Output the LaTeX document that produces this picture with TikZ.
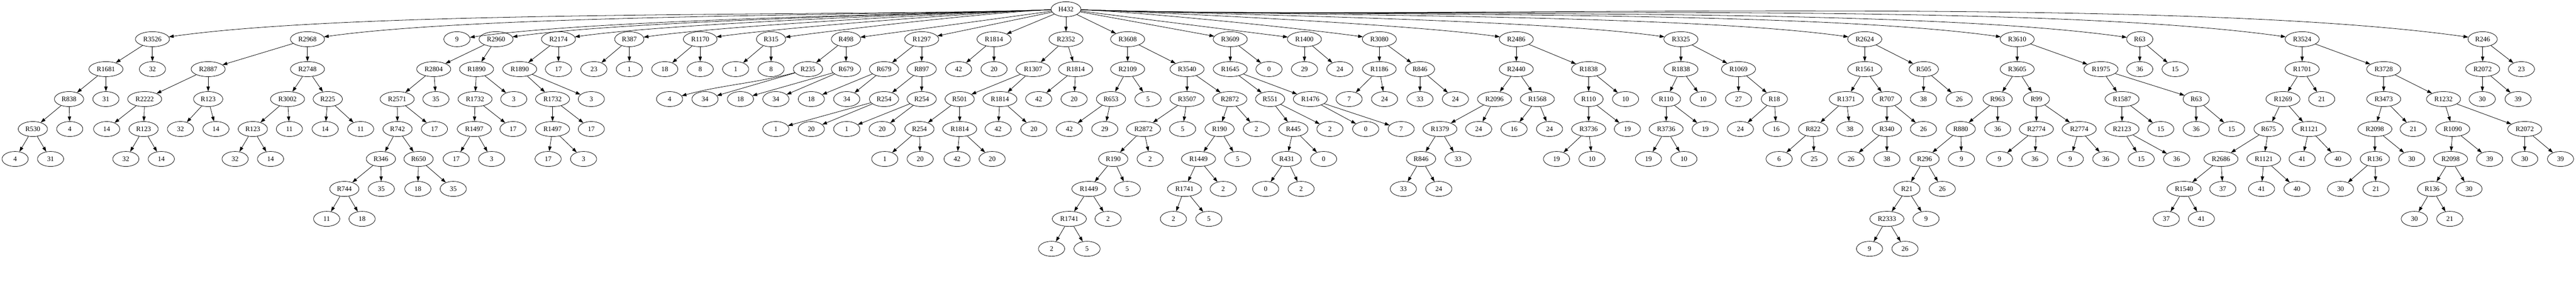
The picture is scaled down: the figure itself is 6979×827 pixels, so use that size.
\documentclass[tikz,border=0pt]{standalone}
\usepackage{fontspec}
\setmainfont{Liberation Serif}
\usetikzlibrary{arrows.meta,shapes.geometric}

\begin{document}
\begin{tikzpicture}[x=1pt,y=1pt]
      \tikzset { vertex/.style = { shape=ellipse,draw,line width=1.1pt,minimum width=71pt,minimum height=40.6pt,inner xsep=8pt,inner ysep=2pt,font=\fontsize{18.5}{22}\selectfont } }
      \tikzset { edge/.style = { ->,> = {Triangle[length=13pt,width=9pt]},line width=1.1pt } }

      \useasboundingbox (0,0) rectangle (6979,827);

      \node[vertex] (top) at (2888,802) {H432};

      \node[vertex] (a) at (413,721) {R3526};
      \node[vertex] (b) at (833,721) {R2968};
      \node[vertex] (c) at (1238,721) {9};
      \node[vertex] (d) at (1344,721) {R2960};
      \node[vertex] (e) at (1513,721) {R2174};
      \node[vertex] (f) at (1705,721) {R387};
      \node[vertex] (g) at (1897,721) {R1170};
      \node[vertex] (h) at (2089,721) {R315};
      \node[vertex] (i) at (2292,721) {R498};
      \node[vertex] (j) at (2497,721) {R1297};
      \node[vertex] (k) at (2693,721) {R1814};
      \node[vertex] (l) at (2888,721) {R2352};
      \node[vertex] (m) at (3055,721) {R3608};
      \node[vertex] (n) at (3333,721) {R3609};
      \node[vertex] (o) at (3534,721) {R1400};
      \node[vertex] (p) at (3737,721) {R3080};
      \node[vertex] (q) at (4108,721) {R2486};
      \node[vertex] (r) at (4554,721) {R3325};
      \node[vertex] (s) at (5052,721) {R2624};
      \node[vertex] (t) at (5465,721) {R3610};
      \node[vertex] (u) at (5797,721) {R63};
      \node[vertex] (v) at (6237,721) {R3524};
      \node[vertex] (w) at (6726,721) {R246};

      \node[vertex] (a1) at (287,640) {R1681};
      \node[vertex] (a2) at (413,640) {32};
      \node[vertex] (b1) at (564,640) {R2887};
      \node[vertex] (b2) at (833,640) {R2748};
      \node[vertex] (d1) at (1175,640) {R2804};
      \node[vertex] (d2) at (1291,640) {R1890};
      \node[vertex] (e1) at (1408,640) {R1890};
      \node[vertex] (e2) at (1513,640) {17};
      \node[vertex] (f1) at (1609,640) {23};
      \node[vertex] (f2) at (1705,640) {1};
      \node[vertex] (g1) at (1801,640) {18};
      \node[vertex] (g2) at (1897,640) {8};
      \node[vertex] (h1) at (1993,640) {1};
      \node[vertex] (h2) at (2089,640) {8};
      \node[vertex] (i1) at (2189,640) {R235};
      \node[vertex] (i2) at (2292,640) {R679};
      \node[vertex] (j1) at (2395,640) {R679};
      \node[vertex] (j2) at (2497,640) {R897};
      \node[vertex] (k1) at (2597,640) {42};
      \node[vertex] (k2) at (2693,640) {20};
      \node[vertex] (l1) at (2799,640) {R1307};
      \node[vertex] (l2) at (2914,640) {R1814};
      \node[vertex] (m1) at (3055,640) {R2109};
      \node[vertex] (m2) at (3216,640) {R3540};
      \node[vertex] (n1) at (3333,640) {R1645};
      \node[vertex] (n2) at (3438,640) {0};
      \node[vertex] (o1) at (3534,640) {29};
      \node[vertex] (o2) at (3630,640) {24};
      \node[vertex] (p1) at (3737,640) {R1186};
      \node[vertex] (p2) at (3847,640) {R846};
      \node[vertex] (q1) at (4108,640) {R2440};
      \node[vertex] (q2) at (4304,640) {R1838};
      \node[vertex] (r1) at (4554,640) {R1838};
      \node[vertex] (r2) at (4710,640) {R1069};
      \node[vertex] (s1) at (5052,640) {R1561};
      \node[vertex] (s2) at (5212,640) {R505};
      \node[vertex] (t1) at (5465,640) {R3605};
      \node[vertex] (t2) at (5692,640) {R1975};
      \node[vertex] (u1) at (5797,640) {36};
      \node[vertex] (u2) at (5893,640) {15};
      \node[vertex] (v1) at (6237,640) {R1701};
      \node[vertex] (v2) at (6458,640) {R3728};
      \node[vertex] (w1) at (6726,640) {R2072};
      \node[vertex] (w2) at (6831,640) {23};

      \node[vertex] (a11) at (187,559) {R838};
      \node[vertex] (a12) at (287,559) {31};
      \node[vertex] (b11) at (392,559) {R2222};
      \node[vertex] (b12) at (564,559) {R123};
      \node[vertex] (b21) at (779,559) {R3002};
      \node[vertex] (b22) at (888,559) {R225};
      \node[vertex] (d11) at (1076,559) {R2571};
      \node[vertex] (d12) at (1181,559) {35};
      \node[vertex] (d21) at (1287,559) {R1732};
      \node[vertex] (d22) at (1392,559) {3};
      \node[vertex] (e11) at (1497,559) {R1732};
      \node[vertex] (e12) at (1602,559) {3};
      \node[vertex] (i11) at (1814,559) {4};
      \node[vertex] (i12) at (1910,559) {34};
      \node[vertex] (i21) at (2006,559) {18};
      \node[vertex] (i22) at (2102,559) {34};
      \node[vertex] (j11) at (2198,559) {18};
      \node[vertex] (j12) at (2294,559) {34};
      \node[vertex] (j21) at (2395,559) {R254};
      \node[vertex] (j22) at (2497,559) {R254};
      \node[vertex] (l11) at (2600,559) {R501};
      \node[vertex] (l12) at (2709,559) {R1814};
      \node[vertex] (l21) at (2814,559) {42};
      \node[vertex] (l22) at (2910,559) {20};
      \node[vertex] (m11) at (3010,559) {R653};
      \node[vertex] (m12) at (3110,559) {5};
      \node[vertex] (m21) at (3216,559) {R3507};
      \node[vertex] (m22) at (3332,559) {R2872};
      \node[vertex] (n11) at (3441,559) {R551};
      \node[vertex] (n12) at (3550,559) {R1476};
      \node[vertex] (p11) at (3655,559) {7};
      \node[vertex] (p12) at (3751,559) {24};
      \node[vertex] (p21) at (3847,559) {33};
      \node[vertex] (p22) at (3943,559) {24};
      \node[vertex] (q11) at (4049,559) {R2096};
      \node[vertex] (q12) at (4165,559) {R1568};
      \node[vertex] (q21) at (4304,559) {R110};
      \node[vertex] (q22) at (4404,559) {10};
      \node[vertex] (r11) at (4514,559) {R110};
      \node[vertex] (r12) at (4614,559) {10};
      \node[vertex] (r21) at (4710,559) {27};
      \node[vertex] (r22) at (4807,559) {R18};
      \node[vertex] (s11) at (5002,559) {R1371};
      \node[vertex] (s12) at (5112,559) {R707};
      \node[vertex] (s21) at (5211,559) {38};
      \node[vertex] (s22) at (5308,559) {26};
      \node[vertex] (t11) at (5412,559) {R963};
      \node[vertex] (t12) at (5517,559) {R99};
      \node[vertex] (t21) at (5749,559) {R1587};
      \node[vertex] (t22) at (5950,559) {R63};
      \node[vertex] (v11) at (6185,559) {R1269};
      \node[vertex] (v12) at (6290,559) {21};
      \node[vertex] (v21) at (6458,559) {R3473};
      \node[vertex] (v22) at (6620,559) {R1232};
      \node[vertex] (w11) at (6725,559) {30};
      \node[vertex] (w12) at (6822,559) {39};

      \node[vertex] (a111) at (89,478) {R530};
      \node[vertex] (a112) at (189,478) {4};
      \node[vertex] (b111) at (289,478) {14};
      \node[vertex] (b112) at (389,478) {R123};
      \node[vertex] (b121) at (489,478) {32};
      \node[vertex] (b122) at (585,478) {14};
      \node[vertex] (b211) at (685,478) {R123};
      \node[vertex] (b212) at (784,478) {11};
      \node[vertex] (b221) at (881,478) {14};
      \node[vertex] (b222) at (977,478) {11};
      \node[vertex] (d111) at (1077,478) {R742};
      \node[vertex] (d112) at (1177,478) {17};
      \node[vertex] (d211) at (1285,478) {R1497};
      \node[vertex] (d212) at (1390,478) {17};
      \node[vertex] (e111) at (1497,478) {R1497};
      \node[vertex] (e112) at (1602,478) {17};
      \node[vertex] (j211) at (2102,478) {1};
      \node[vertex] (j212) at (2198,478) {20};
      \node[vertex] (j221) at (2294,478) {1};
      \node[vertex] (j222) at (2390,478) {20};
      \node[vertex] (l111) at (2491,478) {R254};
      \node[vertex] (l112) at (2600,478) {R1814};
      \node[vertex] (l121) at (2704,478) {42};
      \node[vertex] (l122) at (2801,478) {20};
      \node[vertex] (m111) at (2897,478) {42};
      \node[vertex] (m112) at (2993,478) {29};
      \node[vertex] (m211) at (3098,478) {R2872};
      \node[vertex] (m212) at (3204,478) {5};
      \node[vertex] (m221) at (3304,478) {R190};
      \node[vertex] (m222) at (3404,478) {2};
      \node[vertex] (n111) at (3504,478) {R445};
      \node[vertex] (n112) at (3603,478) {2};
      \node[vertex] (n121) at (3700,478) {0};
      \node[vertex] (n122) at (3796,478) {7};
      \node[vertex] (q111) at (3901,478) {R1379};
      \node[vertex] (q112) at (4006,478) {24};
      \node[vertex] (q121) at (4102,478) {16};
      \node[vertex] (q122) at (4198,478) {24};
      \node[vertex] (q211) at (4304,478) {R3736};
      \node[vertex] (q212) at (4409,478) {19};
      \node[vertex] (r111) at (4514,478) {R3736};
      \node[vertex] (r112) at (4620,478) {19};
      \node[vertex] (r221) at (4715,478) {24};
      \node[vertex] (r222) at (4812,478) {16};
      \node[vertex] (s111) at (4912,478) {R822};
      \node[vertex] (s112) at (5012,478) {38};
      \node[vertex] (s121) at (5112,478) {R340};
      \node[vertex] (s122) at (5211,478) {26};
      \node[vertex] (t111) at (5312,478) {R880};
      \node[vertex] (t112) at (5412,478) {36};
      \node[vertex] (t121) at (5517,478) {R2774};
      \node[vertex] (t122) at (5633,478) {R2774};
      \node[vertex] (t211) at (5749,478) {R2123};
      \node[vertex] (t212) at (5854,478) {15};
      \node[vertex] (t221) at (5950,478) {36};
      \node[vertex] (t222) at (6046,478) {15};
      \node[vertex] (v111) at (6146,478) {R675};
      \node[vertex] (v112) at (6256,478) {R1121};
      \node[vertex] (v211) at (6434,478) {R2098};
      \node[vertex] (v212) at (6538,478) {21};
      \node[vertex] (v221) at (6645,478) {R1090};
      \node[vertex] (v222) at (6840,478) {R2072};

      \node[vertex] (a1111) at (41,397) {4};
      \node[vertex] (a1112) at (137,397) {31};
      \node[vertex] (b1121) at (341,397) {32};
      \node[vertex] (b1122) at (437,397) {14};
      \node[vertex] (b2111) at (637,397) {32};
      \node[vertex] (b2112) at (733,397) {14};
      \node[vertex] (d1111) at (1032,397) {R346};
      \node[vertex] (d1112) at (1134,397) {R650};
      \node[vertex] (d2111) at (1236,397) {17};
      \node[vertex] (d2112) at (1332,397) {3};
      \node[vertex] (e1111) at (1485,397) {17};
      \node[vertex] (e1112) at (1581,397) {3};
      \node[vertex] (l1111) at (2397,397) {1};
      \node[vertex] (l1112) at (2493,397) {20};
      \node[vertex] (l1121) at (2593,397) {42};
      \node[vertex] (l1122) at (2688,397) {20};
      \node[vertex] (m2111) at (3016,397) {R190};
      \node[vertex] (m2112) at (3116,397) {2};
      \node[vertex] (m2211) at (3247,397) {R1449};
      \node[vertex] (m2212) at (3353,397) {5};
      \node[vertex] (n1111) at (3486,397) {R431};
      \node[vertex] (n1112) at (3586,397) {0};
      \node[vertex] (q1111) at (3850,397) {R846};
      \node[vertex] (q1112) at (3950,397) {33};
      \node[vertex] (q2111) at (4217,397) {19};
      \node[vertex] (q2112) at (4313,397) {10};
      \node[vertex] (r1111) at (4466,397) {19};
      \node[vertex] (r1112) at (4562,397) {10};
      \node[vertex] (s1111) at (4820,397) {6};
      \node[vertex] (s1112) at (4915,397) {25};
      \node[vertex] (s1211) at (5015,397) {26};
      \node[vertex] (s1212) at (5112,397) {38};
      \node[vertex] (t1111) at (5214,397) {R296};
      \node[vertex] (t1112) at (5314,397) {9};
      \node[vertex] (t1211) at (5417,397) {9};
      \node[vertex] (t1212) at (5513,397) {36};
      \node[vertex] (t1221) at (5609,397) {9};
      \node[vertex] (t1222) at (5705,397) {36};
      \node[vertex] (t2111) at (5801,397) {15};
      \node[vertex] (t2112) at (5897,397) {36};
      \node[vertex] (v1111) at (6017,397) {R2686};
      \node[vertex] (v1112) at (6133,397) {R1121};
      \node[vertex] (v1121) at (6237,397) {41};
      \node[vertex] (v1122) at (6334,397) {40};
      \node[vertex] (v2111) at (6434,397) {R136};
      \node[vertex] (v2112) at (6534,397) {30};
      \node[vertex] (v2211) at (6639,397) {R2098};
      \node[vertex] (v2212) at (6745,397) {39};
      \node[vertex] (v2221) at (6840,397) {30};
      \node[vertex] (v2222) at (6937,397) {39};

      \node[vertex] (d11111) at (933,316) {R744};
      \node[vertex] (d11112) at (1033,316) {35};
      \node[vertex] (d11121) at (1132,316) {18};
      \node[vertex] (d11122) at (1228,316) {35};
      \node[vertex] (m21111) at (2950,316) {R1449};
      \node[vertex] (m21112) at (3054,316) {5};
      \node[vertex] (m22111) at (3209,316) {R1741};
      \node[vertex] (m22112) at (3314,316) {2};
      \node[vertex] (n11111) at (3429,316) {0};
      \node[vertex] (n11112) at (3525,316) {2};
      \node[vertex] (q11111) at (3802,316) {33};
      \node[vertex] (q11112) at (3898,316) {24};
      \node[vertex] (t11111) at (5166,316) {R21};
      \node[vertex] (t11112) at (5262,316) {26};
      \node[vertex] (v11111) at (5917,316) {R1540};
      \node[vertex] (v11112) at (6022,316) {37};
      \node[vertex] (v11121) at (6127,316) {41};
      \node[vertex] (v11122) at (6223,316) {40};
      \node[vertex] (v21111) at (6341,316) {30};
      \node[vertex] (v21112) at (6437,316) {21};
      \node[vertex] (v22111) at (6589,316) {R136};
      \node[vertex] (v22112) at (6689,316) {30};

      \node[vertex] (d111111) at (885,235) {11};
      \node[vertex] (d111112) at (981,235) {18};
      \node[vertex] (m211111) at (2897,235) {R1741};
      \node[vertex] (m211112) at (3002,235) {2};
      \node[vertex] (m221111) at (3179,235) {2};
      \node[vertex] (m221112) at (3275,235) {5};
      \node[vertex] (t111111) at (5112,235) {R2333};
      \node[vertex] (t111112) at (5218,235) {9};
      \node[vertex] (v111111) at (5869,235) {37};
      \node[vertex] (v111112) at (5964,235) {41};
      \node[vertex] (v221111) at (6541,235) {30};
      \node[vertex] (v221112) at (6637,235) {21};

      \node[vertex] (m2111111) at (2849,154) {2};
      \node[vertex] (m2111112) at (2945,154) {5};
      \node[vertex] (t1111111) at (5065,154) {9};
      \node[vertex] (t1111112) at (5161,154) {26};

      \draw[edge] (top) .. controls +(182:582) and +(8:582) .. (a);
      \draw[edge] (top) .. controls +(182:483) and +(8:483) .. (b);
      \draw[edge] (top) .. controls +(182:388) and +(8:388) .. (c);
      \draw[edge] (top) .. controls +(182:363) and +(8:363) .. (d);
      \draw[edge] (top) .. controls +(182:323) and +(8:323) .. (e);
      \draw[edge] (top) .. controls +(182:278) and +(8:278) .. (f);
      \draw[edge] (top) .. controls +(182:233) and +(8:233) .. (g);
      \draw[edge] (top) .. controls +(182:188) and +(8:188) .. (h);
      \draw[edge] (top) to (i);
      \draw[edge] (top) to (j);
      \draw[edge] (top) to (k);
      \draw[edge] (top) to (l);
      \draw[edge] (top) to (m);
      \draw[edge] (top) to (n);
      \draw[edge] (top) to (o);
      \draw[edge] (top) .. controls +(-2:200) and +(172:200) .. (p);
      \draw[edge] (top) .. controls +(-2:287) and +(172:287) .. (q);
      \draw[edge] (top) .. controls +(-2:392) and +(172:392) .. (r);
      \draw[edge] (top) .. controls +(-2:509) and +(172:509) .. (s);
      \draw[edge] (top) .. controls +(-2:606) and +(172:606) .. (t);
      \draw[edge] (top) .. controls +(-2:684) and +(172:684) .. (u);
      \draw[edge] (top) .. controls +(-2:787) and +(172:787) .. (v);
      \draw[edge] (top) .. controls +(-2:902) and +(172:902) .. (w);

      \draw[edge] (a) to (a1);
      \draw[edge] (a) to (a2);
      \draw[edge] (a1) to (a11);
      \draw[edge] (a1) to (a12);
      \draw[edge] (a11) to (a111);
      \draw[edge] (a11) to (a112);
      \draw[edge] (a111) to (a1111);
      \draw[edge] (a111) to (a1112);

      \draw[edge] (b) to (b1);
      \draw[edge] (b) to (b2);
      \draw[edge] (b1) to (b11);
      \draw[edge] (b1) to (b12);
      \draw[edge] (b11) to (b111);
      \draw[edge] (b11) to (b112);
      \draw[edge] (b112) to (b1121);
      \draw[edge] (b112) to (b1122);
      \draw[edge] (b12) to (b121);
      \draw[edge] (b12) to (b122);
      \draw[edge] (b2) to (b21);
      \draw[edge] (b2) to (b22);
      \draw[edge] (b21) to (b211);
      \draw[edge] (b21) to (b212);
      \draw[edge] (b211) to (b2111);
      \draw[edge] (b211) to (b2112);
      \draw[edge] (b22) to (b221);
      \draw[edge] (b22) to (b222);

      \draw[edge] (d) to (d1);
      \draw[edge] (d) to (d2);
      \draw[edge] (d1) to (d11);
      \draw[edge] (d1) to (d12);
      \draw[edge] (d11) to (d111);
      \draw[edge] (d11) to (d112);
      \draw[edge] (d111) to (d1111);
      \draw[edge] (d111) to (d1112);
      \draw[edge] (d1111) to (d11111);
      \draw[edge] (d1111) to (d11112);
      \draw[edge] (d11111) to (d111111);
      \draw[edge] (d11111) to (d111112);
      \draw[edge] (d1112) to (d11121);
      \draw[edge] (d1112) to (d11122);
      \draw[edge] (d2) to (d21);
      \draw[edge] (d2) to (d22);
      \draw[edge] (d21) to (d211);
      \draw[edge] (d21) to (d212);
      \draw[edge] (d211) to (d2111);
      \draw[edge] (d211) to (d2112);

      \draw[edge] (e) to (e1);
      \draw[edge] (e) to (e2);
      \draw[edge] (e1) to (e11);
      \draw[edge] (e1) to (e12);
      \draw[edge] (e11) to (e111);
      \draw[edge] (e11) to (e112);
      \draw[edge] (e111) to (e1111);
      \draw[edge] (e111) to (e1112);

      \draw[edge] (f) to (f1);
      \draw[edge] (f) to (f2);
      \draw[edge] (g) to (g1);
      \draw[edge] (g) to (g2);
      \draw[edge] (h) to (h1);
      \draw[edge] (h) to (h2);

      \draw[edge] (i) to (i1);
      \draw[edge] (i) to (i2);
      \draw[edge] (i1) .. controls +(195:150) and +(15:150) .. (i11);
      \draw[edge] (i1) to (i12);
      \draw[edge] (i2) to (i21);
      \draw[edge] (i2) to (i22);

      \draw[edge] (j) to (j1);
      \draw[edge] (j) to (j2);
      \draw[edge] (j1) to (j11);
      \draw[edge] (j1) to (j12);
      \draw[edge] (j2) to (j21);
      \draw[edge] (j2) to (j22);
      \draw[edge] (j21) to (j211);
      \draw[edge] (j21) to (j212);
      \draw[edge] (j22) to (j221);
      \draw[edge] (j22) to (j222);

      \draw[edge] (k) to (k1);
      \draw[edge] (k) to (k2);

      \draw[edge] (l) to (l1);
      \draw[edge] (l) to (l2);
      \draw[edge] (l1) to (l11);
      \draw[edge] (l1) to (l12);
      \draw[edge] (l11) to (l111);
      \draw[edge] (l11) to (l112);
      \draw[edge] (l111) to (l1111);
      \draw[edge] (l111) to (l1112);
      \draw[edge] (l112) to (l1121);
      \draw[edge] (l112) to (l1122);
      \draw[edge] (l12) to (l121);
      \draw[edge] (l12) to (l122);
      \draw[edge] (l2) to (l21);
      \draw[edge] (l2) to (l22);

      \draw[edge] (m) to (m1);
      \draw[edge] (m) to (m2);
      \draw[edge] (m1) to (m11);
      \draw[edge] (m1) to (m12);
      \draw[edge] (m11) to (m111);
      \draw[edge] (m11) to (m112);
      \draw[edge] (m2) to (m21);
      \draw[edge] (m2) to (m22);
      \draw[edge] (m21) to (m211);
      \draw[edge] (m21) to (m212);
      \draw[edge] (m211) to (m2111);
      \draw[edge] (m211) to (m2112);
      \draw[edge] (m2111) to (m21111);
      \draw[edge] (m2111) to (m21112);
      \draw[edge] (m21111) to (m211111);
      \draw[edge] (m21111) to (m211112);
      \draw[edge] (m211111) to (m2111111);
      \draw[edge] (m211111) to (m2111112);
      \draw[edge] (m22) to (m221);
      \draw[edge] (m22) to (m222);
      \draw[edge] (m221) to (m2211);
      \draw[edge] (m221) to (m2212);
      \draw[edge] (m2211) to (m22111);
      \draw[edge] (m2211) to (m22112);
      \draw[edge] (m22111) to (m221111);
      \draw[edge] (m22111) to (m221112);

      \draw[edge] (n) to (n1);
      \draw[edge] (n) to (n2);
      \draw[edge] (n1) to (n11);
      \draw[edge] (n1) to (n12);
      \draw[edge] (n11) to (n111);
      \draw[edge] (n11) to (n112);
      \draw[edge] (n111) to (n1111);
      \draw[edge] (n111) to (n1112);
      \draw[edge] (n1111) to (n11111);
      \draw[edge] (n1111) to (n11112);
      \draw[edge] (n12) to (n121);
      \draw[edge] (n12) to (n122);

      \draw[edge] (o) to (o1);
      \draw[edge] (o) to (o2);

      \draw[edge] (p) to (p1);
      \draw[edge] (p) to (p2);
      \draw[edge] (p1) to (p11);
      \draw[edge] (p1) to (p12);
      \draw[edge] (p2) to (p21);
      \draw[edge] (p2) to (p22);

      \draw[edge] (q) to (q1);
      \draw[edge] (q) to (q2);
      \draw[edge] (q1) to (q11);
      \draw[edge] (q1) to (q12);
      \draw[edge] (q11) to (q111);
      \draw[edge] (q11) to (q112);
      \draw[edge] (q111) to (q1111);
      \draw[edge] (q111) to (q1112);
      \draw[edge] (q1111) to (q11111);
      \draw[edge] (q1111) to (q11112);
      \draw[edge] (q12) to (q121);
      \draw[edge] (q12) to (q122);
      \draw[edge] (q2) to (q21);
      \draw[edge] (q2) to (q22);
      \draw[edge] (q21) to (q211);
      \draw[edge] (q21) to (q212);
      \draw[edge] (q211) to (q2111);
      \draw[edge] (q211) to (q2112);

      \draw[edge] (r) to (r1);
      \draw[edge] (r) to (r2);
      \draw[edge] (r1) to (r11);
      \draw[edge] (r1) to (r12);
      \draw[edge] (r11) to (r111);
      \draw[edge] (r11) to (r112);
      \draw[edge] (r111) to (r1111);
      \draw[edge] (r111) to (r1112);
      \draw[edge] (r2) to (r21);
      \draw[edge] (r2) to (r22);
      \draw[edge] (r22) to (r221);
      \draw[edge] (r22) to (r222);

      \draw[edge] (s) to (s1);
      \draw[edge] (s) to (s2);
      \draw[edge] (s1) to (s11);
      \draw[edge] (s1) to (s12);
      \draw[edge] (s11) to (s111);
      \draw[edge] (s11) to (s112);
      \draw[edge] (s111) to (s1111);
      \draw[edge] (s111) to (s1112);
      \draw[edge] (s12) to (s121);
      \draw[edge] (s12) to (s122);
      \draw[edge] (s121) to (s1211);
      \draw[edge] (s121) to (s1212);
      \draw[edge] (s2) to (s21);
      \draw[edge] (s2) to (s22);

      \draw[edge] (t) to (t1);
      \draw[edge] (t) to (t2);
      \draw[edge] (t1) to (t11);
      \draw[edge] (t1) to (t12);
      \draw[edge] (t11) to (t111);
      \draw[edge] (t11) to (t112);
      \draw[edge] (t111) to (t1111);
      \draw[edge] (t111) to (t1112);
      \draw[edge] (t1111) to (t11111);
      \draw[edge] (t1111) to (t11112);
      \draw[edge] (t11111) to (t111111);
      \draw[edge] (t11111) to (t111112);
      \draw[edge] (t111111) to (t1111111);
      \draw[edge] (t111111) to (t1111112);
      \draw[edge] (t12) to (t121);
      \draw[edge] (t12) to (t122);
      \draw[edge] (t121) to (t1211);
      \draw[edge] (t121) to (t1212);
      \draw[edge] (t122) to (t1221);
      \draw[edge] (t122) to (t1222);
      \draw[edge] (t2) to (t21);
      \draw[edge] (t2) to (t22);
      \draw[edge] (t21) to (t211);
      \draw[edge] (t21) to (t212);
      \draw[edge] (t211) to (t2111);
      \draw[edge] (t211) to (t2112);
      \draw[edge] (t22) to (t221);
      \draw[edge] (t22) to (t222);

      \draw[edge] (u) to (u1);
      \draw[edge] (u) to (u2);

      \draw[edge] (v) to (v1);
      \draw[edge] (v) to (v2);
      \draw[edge] (v1) to (v11);
      \draw[edge] (v1) to (v12);
      \draw[edge] (v11) to (v111);
      \draw[edge] (v11) to (v112);
      \draw[edge] (v111) to (v1111);
      \draw[edge] (v111) to (v1112);
      \draw[edge] (v1111) to (v11111);
      \draw[edge] (v1111) to (v11112);
      \draw[edge] (v11111) to (v111111);
      \draw[edge] (v11111) to (v111112);
      \draw[edge] (v1112) to (v11121);
      \draw[edge] (v1112) to (v11122);
      \draw[edge] (v112) to (v1121);
      \draw[edge] (v112) to (v1122);
      \draw[edge] (v2) to (v21);
      \draw[edge] (v2) to (v22);
      \draw[edge] (v21) to (v211);
      \draw[edge] (v21) to (v212);
      \draw[edge] (v211) to (v2111);
      \draw[edge] (v211) to (v2112);
      \draw[edge] (v2111) to (v21111);
      \draw[edge] (v2111) to (v21112);
      \draw[edge] (v22) to (v221);
      \draw[edge] (v22) to (v222);
      \draw[edge] (v221) to (v2211);
      \draw[edge] (v221) to (v2212);
      \draw[edge] (v2211) to (v22111);
      \draw[edge] (v2211) to (v22112);
      \draw[edge] (v22111) to (v221111);
      \draw[edge] (v22111) to (v221112);
      \draw[edge] (v222) to (v2221);
      \draw[edge] (v222) to (v2222);

      \draw[edge] (w) to (w1);
      \draw[edge] (w) to (w2);
      \draw[edge] (w1) to (w11);
      \draw[edge] (w1) to (w12);

    \end{tikzpicture}
\end{document}
